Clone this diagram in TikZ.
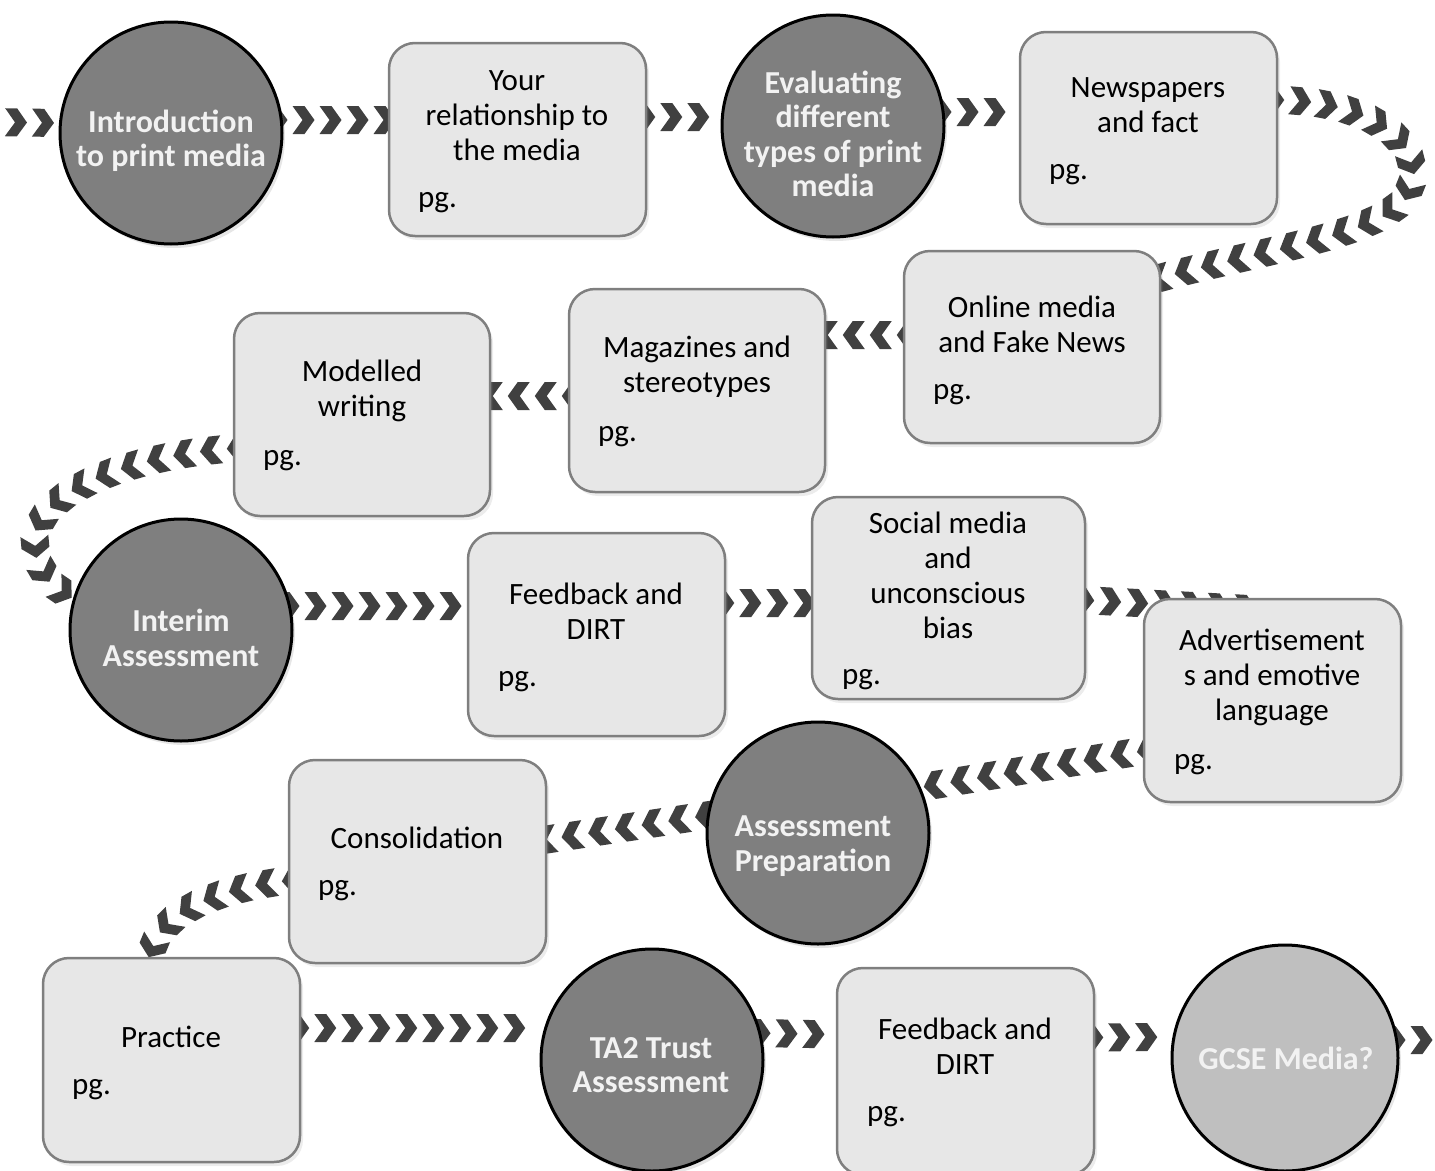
\documentclass[tikz,border=0pt]{standalone}
\usepackage{fontspec}
\setmainfont{Carlito}
\usetikzlibrary{decorations.markings,shadows}
\definecolor{chevcol}{HTML}{404040}
\definecolor{circfill}{HTML}{7F7F7F}
\definecolor{gcsefill}{HTML}{BFBFBF}
\definecolor{boxfill}{HTML}{E7E7E7}
\definecolor{boxline}{HTML}{7F7F7F}
\definecolor{ctext}{HTML}{F2F2F2}
\pgfdeclarelayer{bg}
\pgfsetlayers{bg,main}
\tikzset{
 chevs/.style={decoration={markings, mark=between positions 0 and 1 step 27pt with {\fill[chevcol] (-10pt,14pt) -- (2pt,14pt) -- (12pt,0pt) -- (2pt,-14pt) -- (-10pt,-14pt) -- (0pt,0pt) -- cycle;}}, decorate},
 circ/.style={circle, draw=black, line width=3pt, fill=circfill, minimum size=222pt, inner sep=0pt, drop shadow={shadow xshift=3pt, shadow yshift=-4pt, opacity=0.2}},
 rbox/.style={rectangle, rounded corners=26pt, draw=boxline, line width=2.5pt, fill=boxfill, inner sep=0pt, drop shadow={shadow xshift=3pt, shadow yshift=-4pt, opacity=0.15}},
 ttl/.style={align=center, font=\fontsize{31}{35}\selectfont, text=black, inner sep=0pt},
 ctxt/.style={align=center, font=\fontsize{32}{34.5}\selectfont\bfseries, text=ctext, inner sep=0pt},
 pgt/.style={anchor=west, font=\fontsize{31}{35}\selectfont, text=black, inner sep=0pt}
}
\begin{document}
\begin{tikzpicture}[x=1pt,y=-1pt]
\clip (0,0) rectangle (1435,1170);
% circles
\node[circ] (intro) at (171,133) {};
\node[ctxt] (intro-t) at (171,141) {Introduction\\to print media};
\node[circ] (eval) at (833,126) {};
\node[ctxt] (eval-t) at (833,134) {Evaluating\\different\\types of print\\media};
\node[circ] (interim) at (181,630) {};
\node[ctxt] (interim-t) at (181,638) {Interim\\Assessment};
\node[circ] (prep) at (818,833) {};
\node[ctxt] (prep-t) at (813,846) {Assessment\\Preparation};
\node[circ] (ta2) at (652,1060) {};
\node[ctxt] (ta2-t) at (651,1065) {TA2 Trust\\Assessment};
\node[circ, fill=gcsefill, minimum size=226pt] (gcse) at (1285,1058) {};
\node[ctxt] (gcse-t) at (1286,1058) {GCSE Media?};
% boxes
\node[rbox, minimum width=257pt, minimum height=193pt] (rel) at (517.5,139.5) {};
\node[ttl] (rel-t) at (517,116) {Your\\relationship to\\the media};
\node[pgt] (rel-p) at (418,203) {pg.};
\node[rbox, minimum width=257pt, minimum height=192pt] (news) at (1148.5,128) {};
\node[ttl] (news-t) at (1148,105) {Newspapers\\and fact};
\node[pgt] (news-p) at (1049,175) {pg.};
\node[rbox, minimum width=256pt, minimum height=192pt] (online) at (1032,347) {};
\node[ttl] (online-t) at (1032,324) {Online media\\and Fake News};
\node[pgt] (online-p) at (933,395) {pg.};
\node[rbox, minimum width=256pt, minimum height=203pt] (mag) at (697,390.5) {};
\node[ttl] (mag-t) at (697,367) {Magazines and\\stereotypes};
\node[pgt] (mag-p) at (598,437) {pg.};
\node[rbox, minimum width=256pt, minimum height=203pt] (model) at (362,414.5) {};
\node[ttl] (model-t) at (362,391) {Modelled\\writing};
\node[pgt] (model-p) at (263,461) {pg.};
\node[rbox, minimum width=257pt, minimum height=203pt] (fb1) at (596.5,634.5) {};
\node[ttl] (fb1-t) at (596,611) {Feedback and\\DIRT};
\node[pgt] (fb1-p) at (498,682) {pg.};
\node[rbox, minimum width=273pt, minimum height=202pt] (social) at (948.5,598) {};
\node[ttl] (social-t) at (948,575) {Social media\\and\\unconscious\\bias};
\node[pgt] (social-p) at (842,680) {pg.};
\node[rbox, minimum width=257pt, minimum height=203pt] (adv) at (1272.5,700.5) {};
\node[ttl] (adv-t) at (1272,677) {Advertisement\\s and emotive\\language};
\node[pgt] (adv-p) at (1174,765) {pg.};
\node[rbox, minimum width=257pt, minimum height=203pt] (consol) at (417.5,861.5) {};
\node[ttl] (consol-t) at (417,838) {Consolidation};
\node[pgt] (consol-p) at (318,891) {pg.};
\node[rbox, minimum width=257pt, minimum height=204pt] (practice) at (171.5,1060) {};
\node[ttl] (practice-t) at (171,1037) {Practice};
\node[pgt] (practice-p) at (72,1090) {pg.};
\node[rbox, minimum width=257pt, minimum height=207pt] (fb2) at (965.5,1071.5) {};
\node[ttl] (fb2-t) at (965,1046) {Feedback and\\DIRT};
\node[pgt] (fb2-p) at (867,1117) {pg.};
\coordinate (leftin) at (-12,122);
\coordinate (rightout) at (1460,1040);
\begin{pgfonlayer}{bg}
\clip (0,0) rectangle (1435,1170);
\path[chevs] (leftin) -- ([yshift=10pt]intro.west);
\path[chevs] ([xshift=-8pt,yshift=13pt]intro.east) -- ([yshift=19.5pt]rel.west);
\path[chevs] ([xshift=-4pt,yshift=22.5pt]rel.east) -- ([yshift=9pt]eval.west);
\path[chevs] ([xshift=-6pt,yshift=14pt]eval.east) -- ([yshift=16pt]news.west);
\path[chevs] ([xshift=-6pt,yshift=28pt]news.east) .. controls (1380,100) and (1428,150) .. (1408,192) .. controls (1388,235) and (1260,250) .. ([xshift=-8pt,yshift=-30pt]online.north east);
\path[chevs] ([xshift=6pt,yshift=12pt]online.west) -- ([xshift=-4pt,yshift=55.5pt]mag.east);
\path[chevs] ([xshift=6pt,yshift=-5.5pt]mag.west) -- ([xshift=-4pt,yshift=18.5pt]model.east);
\path[chevs] ([xshift=6pt,yshift=-33.5pt]model.west) .. controls (130,455) and (40,490) .. (35,540) .. controls (35,570) and (55,590) .. (interim.163);
\path[chevs] ([xshift=-6pt,yshift=24pt]interim.east) -- ([yshift=28.5pt]fb1.west);
\path[chevs] ([xshift=-4pt,yshift=31.5pt]fb1.east) -- ([yshift=-5pt]social.west);
\path[chevs] ([xshift=-4pt,yshift=-2pt]social.east) -- ([xshift=-10pt,yshift=-12pt]adv.north);
\path[chevs] ([xshift=6pt,yshift=-49.5pt]adv.west) -- (prep.24);
\path[chevs] (prep.171) -- ([xshift=-4pt,yshift=21.5pt]consol.east);
\path[chevs] ([xshift=6pt,yshift=-18.5pt]consol.west) .. controls (220,888) and (160,910) .. ([xshift=-21.5pt]practice.north);
\path[chevs] ([xshift=-4pt,yshift=32pt]practice.east) -- ([yshift=32pt]ta2.west);
\path[chevs] ([xshift=-6pt,yshift=27pt]ta2.east) -- ([yshift=37pt]fb2.west);
\path[chevs] ([xshift=-4pt,yshift=34pt]fb2.east) -- ([yshift=21pt]gcse.west);
\path[chevs] ([xshift=-6pt,yshift=18pt]gcse.east) -- (rightout);
\end{pgfonlayer}
\end{tikzpicture}
\end{document}
